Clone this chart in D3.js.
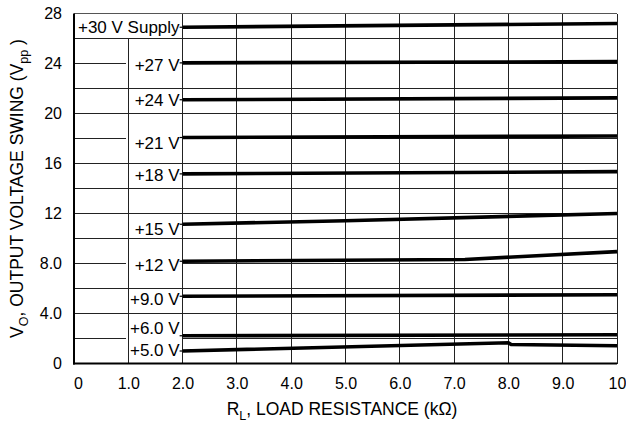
<!DOCTYPE html>
<html><head><meta charset="utf-8">
<script src="https://cdn.jsdelivr.net/npm/d3@7/dist/d3.min.js"></script>
<style>
body{margin:0;background:#fff}
svg text{font-family:"Liberation Sans",Arial,Helvetica,sans-serif;fill:#000}
</style>
</head><body>
<svg id="chart" width="626" height="423"></svg>
<script>
// ---- data ----
const xTicks = [0,1,2,3,4,5,6,7,8,9,10];
const xTickLabels = ["0","1.0","2.0","3.0","4.0","5.0","6.0","7.0","8.0","9.0","10"];
const yTicks = [0,4,8,12,16,20,24,28];
const yTickLabels = ["0","4.0","8.0","12","16","20","24","28"];
const fullGrid = [4,6,10,12,14,16,20,22,26];
const splitGrid = [2,8,18,24];
const seriesLabels = ["+30 V Supply","+27 V","+24 V","+21 V","+18 V","+15 V","+12 V","+9.0 V","+6.0 V","+5.0 V"];
const s30 = [[2,26.9],[10,27.2]];
const s27 = [[2,24.05],[10,24.15]];
const s24 = [[2,21.1],[10,21.25]];
const s21 = [[2,18.08],[10,18.2]];
const s18 = [[2,15.17],[10,15.35]];
const s15 = [[2,11.14],[5,11.42],[10,12.0]];
const s12 = [[2,8.18],[7.2,8.32],[10,8.95]];
const s9  = [[2,5.38],[10,5.5]];
const s6  = [[2,2.22],[10,2.3]];
const s5  = [[2,1.0],[8,1.66],[8.05,1.52],[10,1.42]];
const seriesData = [s30,s27,s24,s21,s18,s15,s12,s9,s6,s5];
// label vertical offsets (px) relative to curve start
const labelOffsets = [0,2,0.5,5,1.3,4.3,4,2.3,-7.7,-0.7];

// ---- layout ----
const L = 74, R = 617, T = 13.5, B = 363.5;
const svg = d3.select("#chart");
const x = d3.scaleLinear().domain([0,10]).range([L,R]);
const y = d3.scaleLinear().domain([0,28]).range([B,T]);

const grid = svg.append("g").attr("stroke","#222").attr("stroke-width",1).attr("shape-rendering","crispEdges");
// vertical grid
grid.selectAll("line.v").data(xTicks.filter(d=>d>=2)).enter().append("line")
  .attr("x1",d=>x(d)).attr("x2",d=>x(d)).attr("y1",y(28)).attr("y2",y(0));
grid.append("line").attr("x1",x(1)).attr("x2",x(1)).attr("y1",y(26)).attr("y2",y(0));
// horizontal grid
grid.selectAll("line.hf").data(fullGrid).enter().append("line")
  .attr("x1",x(0)).attr("x2",x(10)).attr("y1",d=>y(d)).attr("y2",d=>y(d));
grid.selectAll("line.hs1").data(splitGrid).enter().append("line")
  .attr("x1",x(0)).attr("x2",x(1)-2).attr("y1",d=>y(d)).attr("y2",d=>y(d));
grid.selectAll("line.hs2").data(splitGrid).enter().append("line")
  .attr("x1",x(2)).attr("x2",x(10)).attr("y1",d=>y(d)).attr("y2",d=>y(d));
// frame
grid.append("line").attr("x1",x(0)).attr("x2",x(10)).attr("y1",y(28)).attr("y2",y(28)).attr("stroke","#555");
grid.append("line").attr("x1",x(10)).attr("x2",x(10)).attr("y1",y(28)).attr("y2",y(0));
svg.append("line").attr("x1",x(0)).attr("x2",x(0)).attr("y1",y(28)).attr("y2",y(0)+1).attr("stroke","#000").attr("stroke-width",2);
svg.append("line").attr("x1",x(0)-1).attr("x2",x(10)).attr("y1",y(0)).attr("y2",y(0)).attr("stroke","#000").attr("stroke-width",2);

// axes
const ax = svg.append("g").attr("transform",`translate(0,${B})`)
  .call(d3.axisBottom(x).tickValues(xTicks).tickFormat((d,i)=>xTickLabels[i]).tickSize(0).tickPadding(14));
const ay = svg.append("g").attr("transform",`translate(${L},0)`)
  .call(d3.axisLeft(y).tickValues(yTicks).tickFormat((d,i)=>yTickLabels[i]).tickSize(0).tickPadding(12));
[ax,ay].forEach(g=>{g.select(".domain").remove(); g.selectAll("text").attr("font-size",16).attr("font-family",null);});
ax.selectAll("text").filter(d=>d===0).attr("dx",4);

// curves
const line = d3.line().x(d=>x(d[0])).y(d=>y(d[1]));
svg.append("g").selectAll("path").data(seriesData).enter().append("path")
  .attr("d",line).attr("fill","none").attr("stroke","#000").attr("stroke-width",3.6);

// labels
const lg = svg.append("g");
seriesData.forEach((s,i)=>{
  const y0 = y(s[0][1]);
  lg.append("line").attr("x1",x(2)-3).attr("x2",x(2)).attr("y1",y0).attr("y2",y0).attr("stroke","#000").attr("stroke-width",1.2);
  lg.append("text").attr("x",x(2)-3).attr("y",y0+labelOffsets[i]+6)
    .attr("text-anchor","end").attr("font-size",17).text(seriesLabels[i]);
});

// axis titles
const xt = svg.append("text").attr("x",342).attr("y",415).attr("text-anchor","middle").attr("font-size",17.5);
xt.append("tspan").text("R");
xt.append("tspan").attr("font-size",12.5).attr("dy",5).text("L");
xt.append("tspan").attr("dy",-5).text(", LOAD RESISTANCE (kΩ)");

const yt = svg.append("text").attr("transform",`translate(23,${(T+B)/2}) rotate(-90)`).attr("text-anchor","middle").attr("font-size",17.5);
yt.append("tspan").text("V");
yt.append("tspan").attr("font-size",12.5).attr("dy",5).text("O");
yt.append("tspan").attr("dy",-5).text(", OUTPUT VOLTAGE SWING (V");
yt.append("tspan").attr("font-size",12.5).attr("dy",5).text("pp");
yt.append("tspan").attr("dy",-5).text(" )");
</script>
</body></html>
